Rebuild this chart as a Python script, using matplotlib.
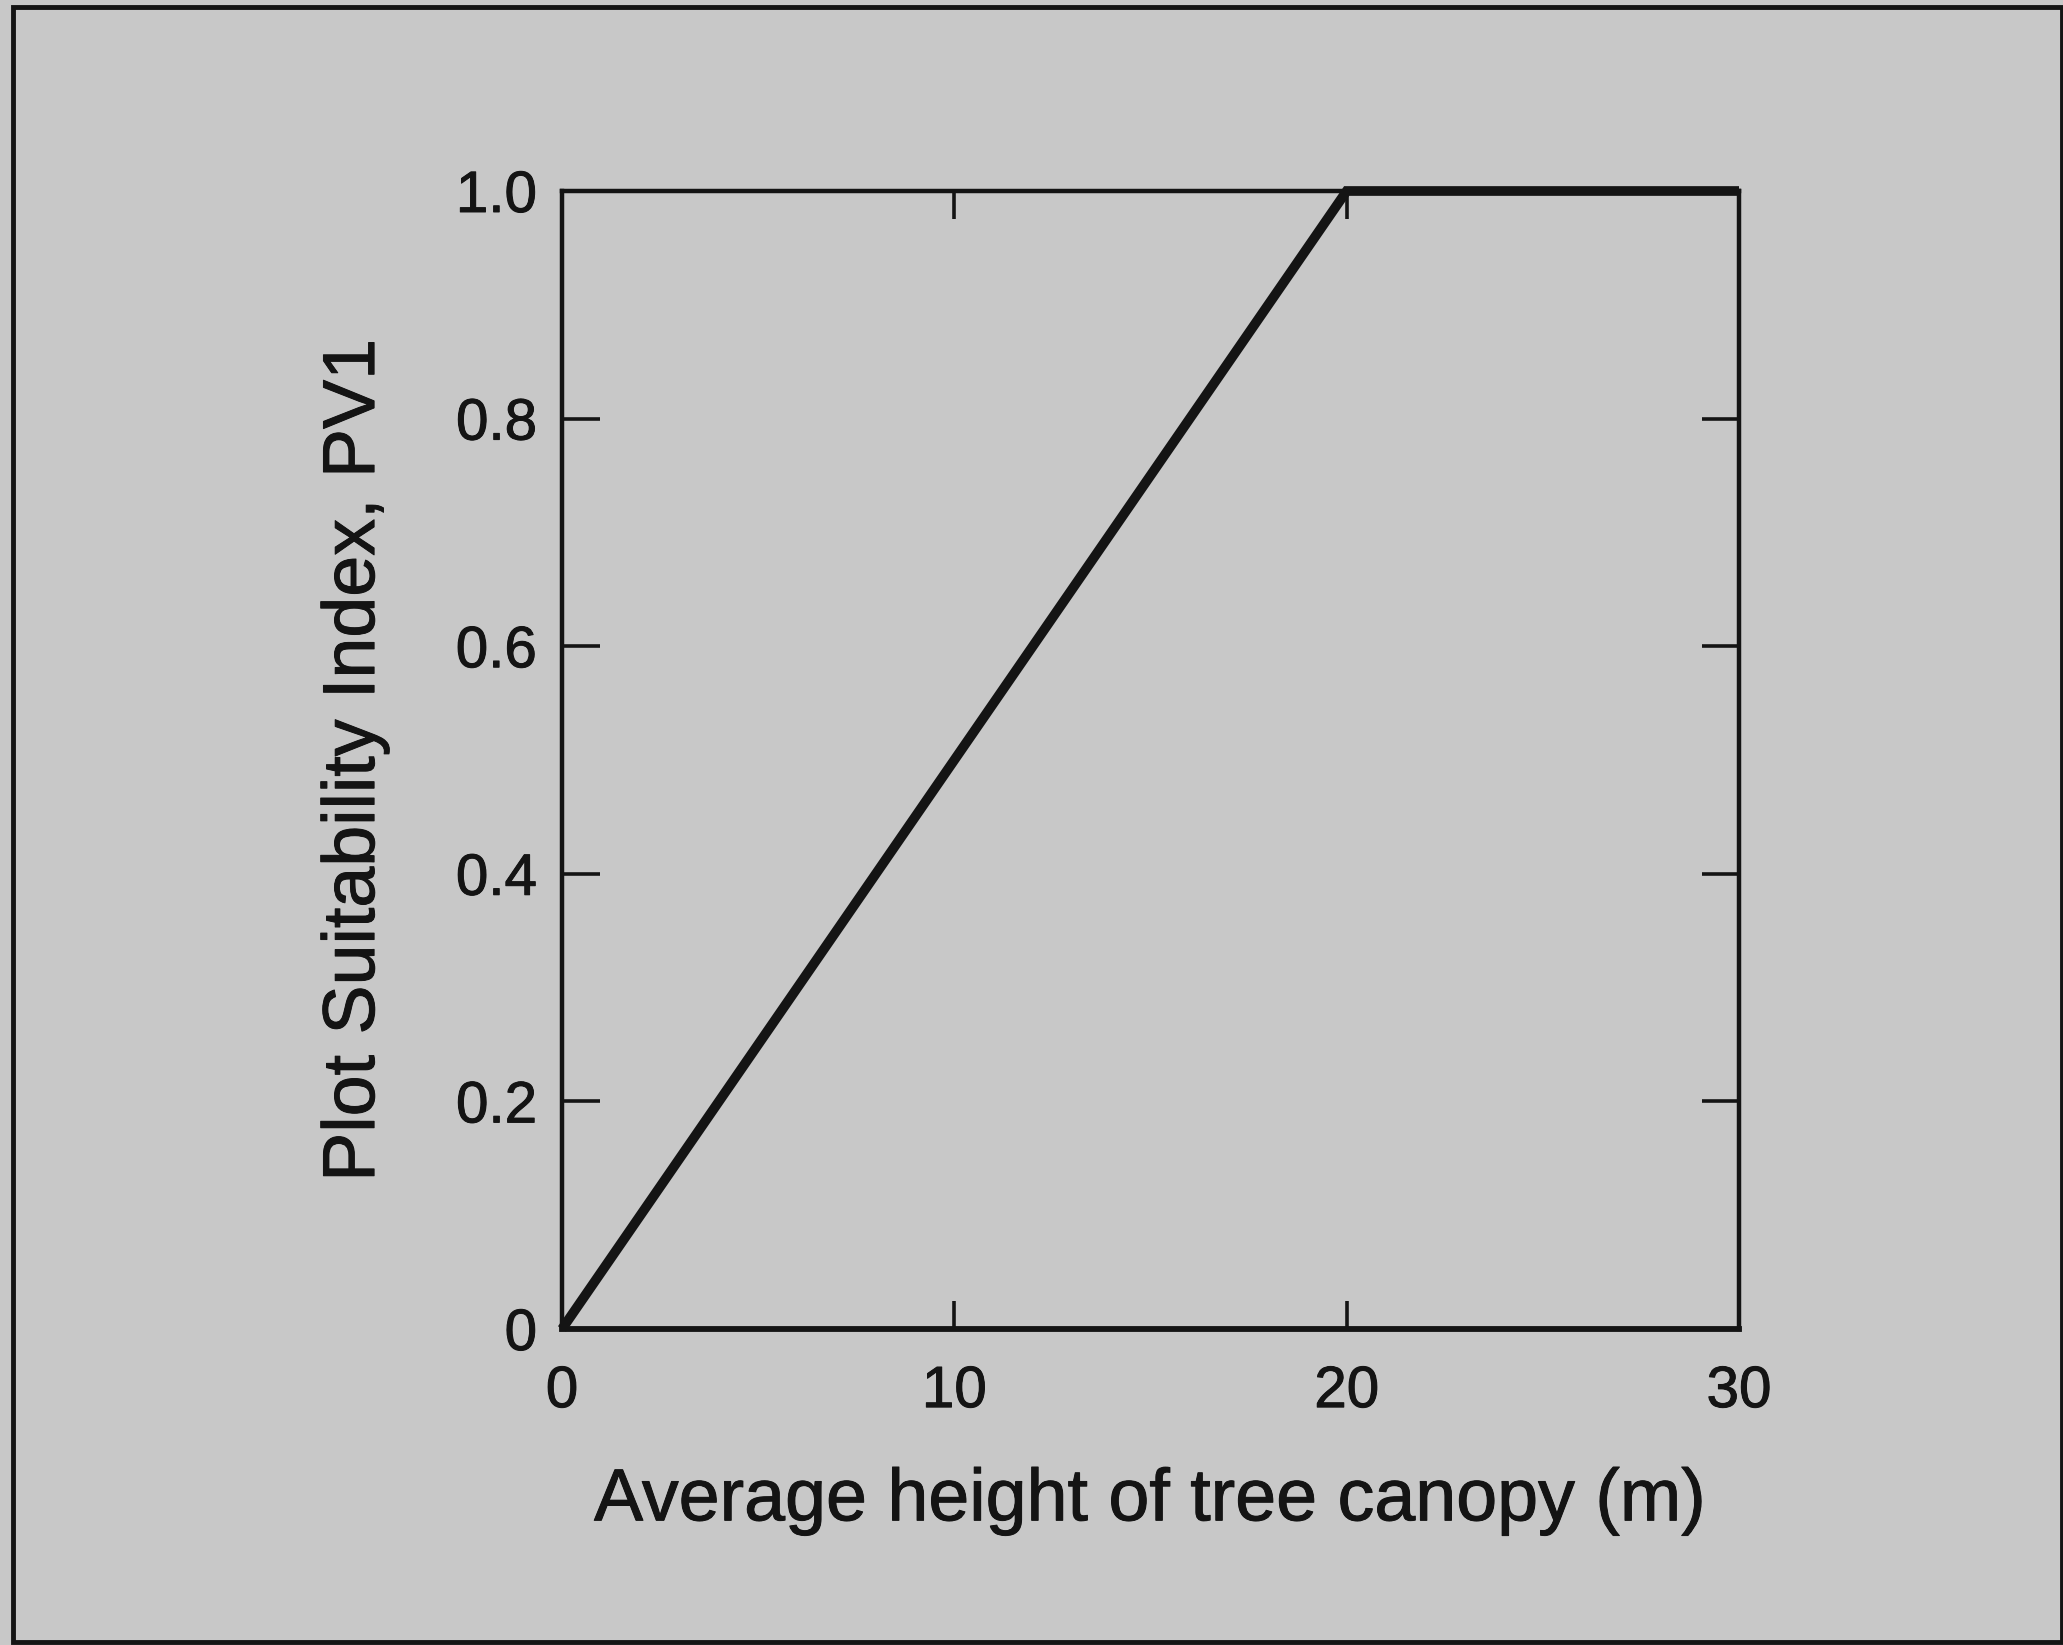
import matplotlib
matplotlib.use("Agg")
import matplotlib.pyplot as plt
from matplotlib.patches import Rectangle
import matplotlib.patheffects as pe

# Data
height_m = [0, 20, 30]
suitability = [0.0, 1.0, 1.0]
x_ticks = [0, 10, 20, 30]
x_tick_labels = ["0", "10", "20", "30"]
y_ticks = [0, 0.2, 0.4, 0.6, 0.8, 1.0]
y_tick_labels = ["0", "0.2", "0.4", "0.6", "0.8", "1.0"]
x_label = "Average height of tree canopy (m)"
y_label = "Plot Suitability Index, PV1"

plt.rcParams['font.family'] = ['Liberation Sans', 'DejaVu Sans']
W, H = 2063, 1645
bg = "#c8c8c8"
ink = "#141414"
thick = [pe.withStroke(linewidth=0.7, foreground=ink)]

fig = plt.figure(figsize=(W / 100, H / 100), dpi=100, facecolor=bg)

# outer frame
fig.patches.append(Rectangle((13 / W, 1 - 1642 / H), (2062 - 13) / W, (1642 - 7) / H,
                             transform=fig.transFigure, fill=False,
                             edgecolor=ink, linewidth=3.5))

ax = fig.add_axes([562 / W, 1 - 1329 / H, (1739 - 562) / W, (1329 - 191) / H])
ax.set_facecolor(bg)
ax.plot(height_m, suitability, color=ink, linewidth=7.0, solid_joinstyle='miter',
        solid_capstyle='butt', clip_on=False, zorder=3)

ax.set_xlim(0, 30)
ax.set_ylim(0, 1)
ax.set_xticks(x_ticks)
ax.set_xticklabels(x_tick_labels)
ax.set_yticks(y_ticks)
ax.set_yticklabels(y_tick_labels)

for s in ax.spines.values():
    s.set_color(ink)
    s.set_linewidth(3.2)
ax.spines['bottom'].set_linewidth(4.2)

ax.tick_params(axis='both', which='major', direction='in', colors=ink,
               labelsize=42, width=2.6, top=True, right=True)
ax.tick_params(axis='y', which='major', length=27, pad=18)
ax.tick_params(axis='x', which='major', length=20, pad=26)

for lab in ax.get_xticklabels() + ax.get_yticklabels():
    lab.set_path_effects(thick)

ax.set_xlabel(x_label, fontsize=53, color=ink, labelpad=34, path_effects=thick)
ax.set_ylabel(y_label, fontsize=53, color=ink, labelpad=48, path_effects=thick)

fig.savefig("out.png", dpi=100, facecolor=bg)
